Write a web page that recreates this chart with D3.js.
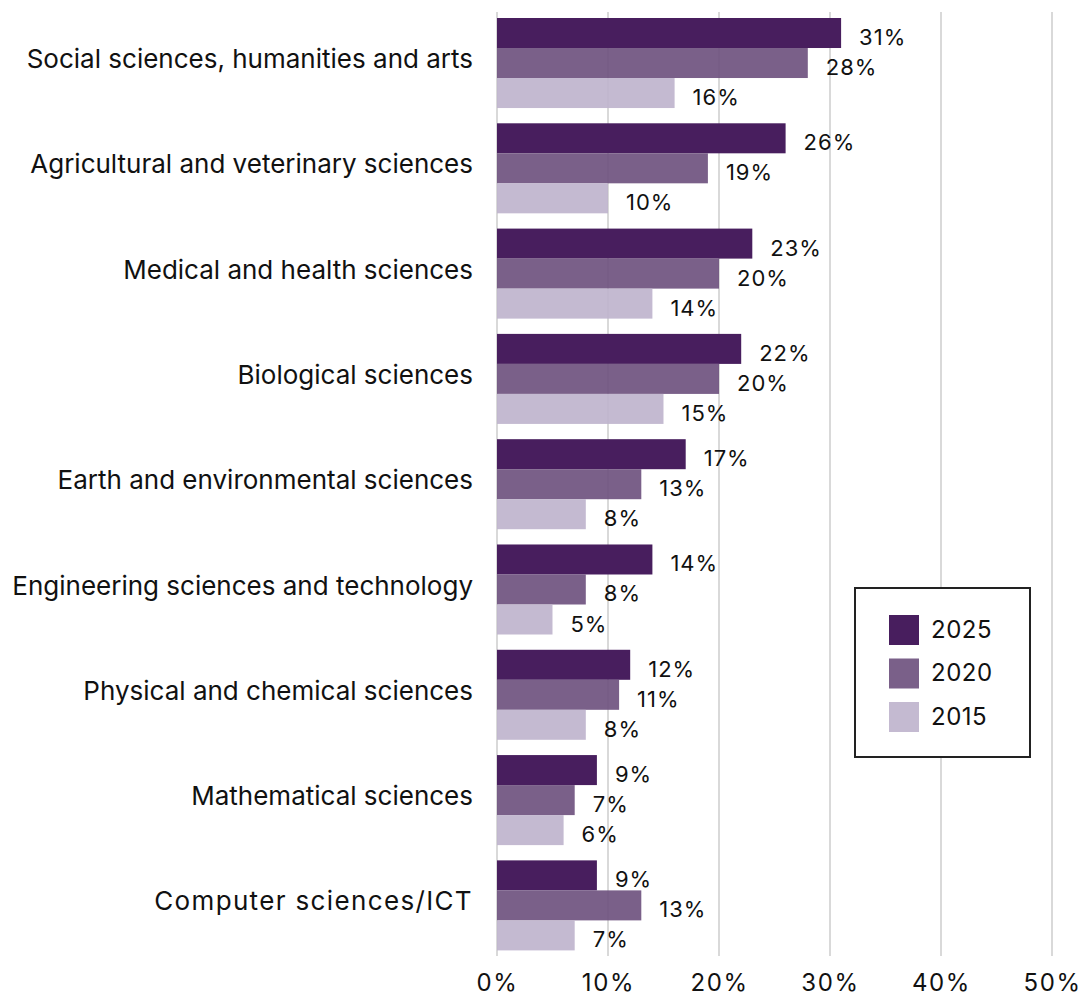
<!DOCTYPE html>
<html><head><meta charset="utf-8">
<script src="https://cdn.jsdelivr.net/npm/d3@7"></script>
<style>
body{margin:0;background:#fff;}
text{font-family:Inter,"Noto Sans",sans-serif;fill:#111;}
</style></head><body>
<svg id="c" width="1089" height="998"></svg>
<script>
const categories = ["Social sciences, humanities and arts","Agricultural and veterinary sciences","Medical and health sciences","Biological sciences","Earth and environmental sciences","Engineering sciences and technology","Physical and chemical sciences","Mathematical sciences","Computer sciences/ICT"];
const seriesNames = ["2025","2020","2015"];
const values2025 = [31,26,23,22,17,14,12,9,9];
const values2020 = [28,19,20,20,13,8,11,7,13];
const values2015 = [16,10,14,15,8,5,8,6,7];
const xTicks = [0,10,20,30,40,50];
const colors = ["#481e5e","#6b4f7c","#beb3cc"];
const opac = [1,0.9,0.9];

const series = [values2025, values2020, values2015];
const svg = d3.select("#c");
const x = d3.scaleLinear().domain([0,50]).range([497,1052]);
const y0 = d3.scaleBand().domain(categories).range([12,956.4]).paddingInner(0.145).paddingOuter(0.057);
const y1 = d3.scaleBand().domain(seriesNames).range([0,y0.bandwidth()]);

// gridlines
svg.append("g").selectAll("line").data(xTicks).join("line")
  .attr("x1",d=>x(d)).attr("x2",d=>x(d)).attr("y1",12).attr("y2",956)
  .attr("stroke","#d9d9d9").attr("stroke-width",2);

// bars
const g = svg.append("g");
categories.forEach((c,i)=>{
  seriesNames.forEach((s,j)=>{
    const v = series[j][i];
    g.append("rect").attr("x",x(0)).attr("y",y0(c)+y1(s))
      .attr("width",x(v)-x(0)).attr("height",y1.bandwidth())
      .attr("fill",colors[j]).attr("fill-opacity",opac[j]);
    g.append("text").attr("x",x(v)+18).attr("y",y0(c)+y1(s)+y1.bandwidth()/2+6)
      .attr("dominant-baseline","middle").attr("font-size",22).attr("letter-spacing",1)
      .text(v+"%");
  });
});

// category labels
svg.append("g").selectAll("text").data(categories).join("text")
  .attr("x",473).attr("y",d=>y0(d)+y0.bandwidth()/2-2)
  .attr("text-anchor","end").attr("dominant-baseline","middle").attr("font-size",26)
  .attr("letter-spacing",d=>d==="Computer sciences/ICT"?1.35:0)
  .text(d=>d);

// x axis
const ax = svg.append("g").attr("transform","translate(0,984)")
  .call(d3.axisBottom(x).tickValues(xTicks).tickFormat(d=>d+"%").tickSize(0).tickPadding(0));
ax.select(".domain").remove();
ax.selectAll("text").attr("font-size",24).attr("letter-spacing",1.6).attr("dy",null)
  .attr("dominant-baseline","middle").style("font-family","Inter, sans-serif").attr("fill","#111");

// legend
const lg = svg.append("g");
lg.append("rect").attr("x",855).attr("y",588).attr("width",175).attr("height",169)
  .attr("fill","#fff").attr("stroke","#222").attr("stroke-width",2);
seriesNames.forEach((s,j)=>{
  lg.append("rect").attr("x",889).attr("y",615+j*43.5).attr("width",30).attr("height",30)
    .attr("fill",colors[j]).attr("fill-opacity",opac[j]);
  lg.append("text").attr("x",931).attr("y",631+j*43.5).attr("dominant-baseline","middle")
    .attr("font-size",24).attr("letter-spacing",0.5).text(s);
});
</script></body></html>
